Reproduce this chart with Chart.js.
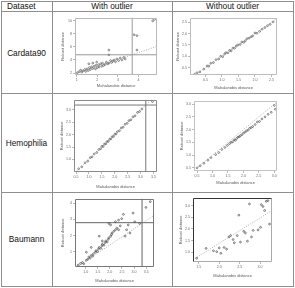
<!DOCTYPE html>
<html><head><meta charset="utf-8">
<script src="https://cdn.jsdelivr.net/npm/chart.js@4/dist/chart.umd.min.js"></script>
<style>
html,body{margin:0;padding:0;background:#fff;width:295px;height:288px;overflow:hidden;font-family:"Liberation Sans",Arial,sans-serif;}
.ln{position:absolute;background:#8f8f8f;}
.txt{position:absolute;font-size:8.3px;color:#111;line-height:10px;height:10px;white-space:nowrap;}
canvas{position:absolute;}
</style></head><body>
<div class="ln" style="left:1px;top:1px;width:1px;height:286px"></div>
<div class="ln" style="left:52px;top:1px;width:1px;height:286px"></div>
<div class="ln" style="left:172px;top:1px;width:1px;height:286px"></div>
<div class="ln" style="left:293px;top:1px;width:1px;height:286px"></div>
<div class="ln" style="left:1px;top:1px;width:293px;height:1px"></div>
<div class="ln" style="left:1px;top:11px;width:293px;height:1px"></div>
<div class="ln" style="left:1px;top:93px;width:293px;height:1px"></div>
<div class="ln" style="left:1px;top:192px;width:293px;height:1px"></div>
<div class="ln" style="left:1px;top:286px;width:293px;height:1px"></div>
<div class="txt" style="left:7px;top:1px">Dataset</div>
<div class="txt" style="left:52px;top:1px;width:120px;text-align:center">With outlier</div>
<div class="txt" style="left:172px;top:1px;width:121px;text-align:center">Without outlier</div>
<div class="txt" style="left:1px;top:48px;width:51px;text-align:center">Cardata90</div>
<div class="txt" style="left:1px;top:138px;width:51px;text-align:center">Hemophilia</div>
<div class="txt" style="left:1px;top:234px;width:51px;text-align:center">Baumann</div>
<canvas id="c1"></canvas><canvas id="c2"></canvas><canvas id="c3"></canvas>
<canvas id="c4"></canvas><canvas id="c5"></canvas><canvas id="c6"></canvas>
<script>
const AXIS_X = 'Mahalanobis distance';
const AXIS_Y = 'Robust distance';

// Cardata90, with outlier
const cardOutX = [1.03,1.12,1.19,1.25,1.31,1.39,1.44,1.50,1.56,1.62,1.66,1.72,1.78,1.84,1.91,1.94,2.00,2.06,2.09,2.16,2.22,2.25,2.31,2.38,2.44,2.50,2.56,2.64,2.69,2.75,2.81,2.88,2.95,3.03,3.11,3.19,3.28,3.35,1.59,1.78,1.97,2.56,2.56,3.78,3.92,3.92,4.77,4.68];
const cardOutY = [2.05,2.20,2.44,2.15,2.34,2.54,2.25,2.64,2.39,2.83,2.54,2.93,2.69,3.03,2.64,3.18,2.83,3.27,2.93,3.42,3.03,3.52,3.18,3.32,3.67,3.42,3.52,3.91,3.62,3.81,4.01,3.72,4.16,3.91,4.30,4.01,4.40,4.16,3.42,3.52,3.67,5.53,4.79,7.88,7.73,5.53,10.23,10.0];
const cardOutFitX = [0.92, 4.91];
const cardOutFitY = [1.87, 6.12];
const cardOutCut = [3.69, 4.8];
const cardOutXTicks = [1,2,3,4];
const cardOutYTicks = [2,4,6,8,10];

// Cardata90, without outlier
const cardX = [0.17,0.24,0.33,0.45,0.55,0.6,0.66,0.74,0.82,0.9,0.96,1.02,1.08,1.12,1.18,1.23,1.28,1.33,1.38,1.43,1.48,1.55,1.6,1.66,1.71,1.76,1.82,1.88,1.93,2.0,2.06,2.14,2.22,2.3,2.38,2.46,2.55];
const cardY = [0.2,0.27,0.31,0.43,0.57,0.56,0.69,0.72,0.85,0.88,1.0,0.98,1.1,1.16,1.15,1.26,1.24,1.36,1.35,1.45,1.5,1.52,1.63,1.62,1.69,1.78,1.8,1.86,1.9,2.03,2.02,2.1,2.2,2.27,2.35,2.41,2.52];
const cardFitX = [0.03, 2.68];
const cardFitY = [0.03, 2.68];
const cardXTicks = [0.5,1.0,1.5,2.0,2.5];
const cardYTicks = [0.5,1.0,1.5,2.0,2.5];

// Hemophilia, with outlier
const hemoOutX = [0.6,0.72,0.85,0.95,1.05,1.12,1.2,1.3,1.38,1.45,1.5,1.55,1.6,1.65,1.7,1.75,1.8,1.85,1.9,1.95,2.0,2.05,2.1,2.18,2.25,2.32,2.4,2.48,2.55,2.62,2.7,2.78,2.88,2.96,3.05,3.46];
const hemoOutY = [0.62,0.7,0.86,0.93,1.07,1.1,1.22,1.28,1.4,1.43,1.53,1.52,1.62,1.63,1.72,1.73,1.82,1.83,1.92,1.93,2.02,2.03,2.12,2.16,2.27,2.3,2.42,2.46,2.57,2.6,2.72,2.76,2.9,2.94,3.04,3.34];
const hemoOutFitX = [0.42, 3.65];
const hemoOutFitY = [0.42, 3.65];
const hemoOutCut = [3.2, 3.2];
const hemoOutXTicks = [0.5,1.0,1.5,2.0,2.5,3.0,3.5];
const hemoOutYTicks = [1.0,1.5,2.0,2.5,3.0];

// Hemophilia, without outlier
const hemoX = [0.5,0.6,0.72,0.85,0.95,1.1,1.2,1.3,1.4,1.48,1.55,1.6,1.65,1.7,1.74,1.78,1.82,1.86,1.9,1.95,2.0,2.05,2.1,2.15,2.2,2.25,2.3,2.38,2.45,2.52,2.6,2.7,2.8,2.9,3.0,3.03];
const hemoY = [0.5,0.58,0.68,0.8,0.9,1.02,1.1,1.22,1.3,1.38,1.45,1.5,1.52,1.6,1.58,1.65,1.7,1.72,1.76,1.8,1.86,1.9,1.95,1.98,2.05,2.08,2.12,2.2,2.3,2.32,2.42,2.5,2.6,2.68,2.95,2.8];
const hemoFitX = [0.4, 3.1];
const hemoFitY = [0.4, 3.1];
const hemoXTicks = [0.5,1.0,1.5,2.0,2.5,3.0];
const hemoYTicks = [0.5,1.0,1.5,2.0,2.5,3.0];

// Baumann, with outlier
const baumOutX = [0.69,0.79,0.87,0.92,1.03,1.09,1.13,1.19,1.23,1.29,1.32,1.40,1.43,1.49,1.53,1.56,1.63,1.67,1.69,1.76,1.80,1.83,1.89,1.93,1.96,2.03,2.07,2.09,2.16,2.23,2.29,2.36,2.43,1.96,2.03,2.23,2.36,2.49,2.63,2.69,2.83,1.23,1.03,1.56,1.69,2.56,2.96,3.49,3.67,3.23,2.76,3.03];
const baumOutY = [0.16,0.26,0.32,0.24,0.46,0.52,0.66,0.60,0.76,0.72,0.86,0.96,1.06,1.00,1.16,1.26,1.20,1.36,1.46,1.40,1.56,1.66,1.60,1.76,1.86,1.96,2.06,2.16,2.26,2.36,2.46,2.36,2.60,2.75,2.66,2.86,2.96,3.05,1.96,2.36,2.16,1.26,0.96,1.96,1.66,3.32,3.40,3.75,4.11,2.75,2.66,2.86];
const baumOutFitX = [0.56, 3.84];
const baumOutFitY = [-0.04, 3.27];
const baumOutCut = [3.33, 2.8];
const baumOutXTicks = [1.0,1.5,2.0,2.5,3.0,3.5];
const baumOutYTicks = [1,2,3,4];

// Baumann, without outlier
const baumX = [1.45,1.68,1.86,1.94,2.0,2.04,2.12,2.18,2.24,2.28,2.34,2.37,2.44,2.48,2.52,2.60,2.64,2.69,2.74,2.79,2.83,2.95,3.01,3.03,3.07,3.15,3.19,3.23,3.11];
const baumY = [0.75,1.17,1.07,1.03,1.19,0.96,1.21,1.14,1.66,1.72,1.55,1.41,1.72,2.59,1.44,1.90,1.83,1.48,3.07,1.66,1.94,1.96,2.07,3.04,2.96,3.18,3.21,2.21,2.79];
const baumFitX = [1.36, 3.30];
const baumFitY = [0.69, 2.80];
const baumXTicks = [1.5,2.0,2.5,3.0];
const baumYTicks = [1.0,1.5,2.0,2.5,3.0];

const F = '"Liberation Sans", Arial, sans-serif';
Chart.defaults.font.family = F;

const framePlugin = {
  id: 'frame',
  afterDatasetsDraw(chart, args, o) {
    const a = chart.chartArea, c = chart.ctx;
    c.save();
    c.lineWidth = o.w || 1;
    const l = Math.round(a.left) + 0.5, t = Math.round(a.top) + 0.5;
    const r = Math.round(a.right) - 0.5, b = Math.round(a.bottom) - 0.5;
    c.strokeStyle = o.color;
    c.beginPath(); c.moveTo(r, t); c.lineTo(r, b); c.lineTo(l, b); c.stroke();
    c.strokeStyle = o.tl || o.color;
    c.beginPath(); c.moveTo(l, b); c.lineTo(l, t); c.lineTo(r, t); c.stroke();
    c.restore();
  }
};

function pts(xs, ys) { return xs.map((v, i) => ({x: v, y: ys[i]})); }

function makePlot(id, fr, o) {
  const yW = 15, xH = o.xH || 15, pad = 2;
  const cv = document.getElementById(id);
  const w = fr.R - fr.L + yW + pad, h = fr.B - fr.T + pad + xH;
  cv.width = w; cv.height = h;
  cv.style.left = (fr.L - yW) + 'px'; cv.style.top = (fr.T - pad) + 'px';
  cv.style.width = w + 'px'; cv.style.height = h + 'px';
  const ds = [];
  ds.push({data: pts(o.fitX, o.fitY), showLine: true, borderColor: '#9a9a9a', borderWidth: 0.8,
           borderDash: [1, 1.5], pointRadius: 0, fill: false});
  if (o.cut) {
    ds.push({data: pts([o.cut[0], o.cut[0]], [o.ymin, o.ymax]), showLine: true, borderColor: o.cutColor,
             borderWidth: 0.9, pointRadius: 0});
    ds.push({data: pts([o.xmin, o.xmax], [o.cut[1], o.cut[1]]), showLine: true, borderColor: o.cutColor,
             borderWidth: 0.9, pointRadius: 0});
  }
  ds.push({data: pts(o.x, o.y), pointRadius: 0.9, borderWidth: 0.6, borderColor: o.ptColor || '#444',
           backgroundColor: 'rgba(0,0,0,0)', pointStyle: 'circle', showLine: false});
  const tickFont = {size: 3.6, family: F};
  new Chart(cv, {
    type: 'scatter',
    data: {datasets: ds},
    options: {
      responsive: false, animation: false, devicePixelRatio: 1,
      layout: {padding: {top: pad, right: pad, left: 0, bottom: 0}},
      plugins: {legend: {display: false}, tooltip: {enabled: false},
                frame: {color: o.frame, tl: o.frameTL, w: 1}},
      scales: {
        x: {type: 'linear', min: o.xmin, max: o.xmax,
            afterBuildTicks: s => { s.ticks = o.xt.map(v => ({value: v})); },
            afterFit: s => { s.height = xH; },
            ticks: {font: tickFont, color: '#6a6a6a', padding: 1, maxRotation: 0, autoSkip: false,
                    callback: v => v.toFixed(o.xd)},
            grid: {drawOnChartArea: false, drawTicks: true, tickLength: 2, color: '#8a8a8a', lineWidth: 0.6},
            border: {display: false},
            title: {display: true, text: AXIS_X, font: {size: 4, family: F}, color: '#555', padding: 0}},
        y: {type: 'linear', min: o.ymin, max: o.ymax,
            afterBuildTicks: s => { s.ticks = o.yt.map(v => ({value: v})); },
            afterFit: s => { s.width = yW; },
            ticks: {font: tickFont, color: '#6a6a6a', padding: 1, autoSkip: false,
                    callback: v => v.toFixed(o.yd)},
            grid: {drawOnChartArea: false, drawTicks: true, tickLength: 2, color: '#8a8a8a', lineWidth: 0.6},
            border: {display: false},
            title: {display: true, text: AXIS_Y, font: {size: 4, family: F}, color: '#555', padding: 0}}
      }
    },
    plugins: [framePlugin]
  });
}

makePlot('c1', {L: 75, T: 15, R: 160, B: 75}, {
  x: cardOutX, y: cardOutY, fitX: cardOutFitX, fitY: cardOutFitY, cut: cardOutCut, cutColor: '#8c8c8c',
  xmin: 0.92, xmax: 4.91, ymin: 1.7, ymax: 10.5, xt: cardOutXTicks, yt: cardOutYTicks, xd: 0, yd: 0,
  frame: '#b8b8b8', xH: 13});
makePlot('c2', {L: 190, T: 15, R: 280, B: 75}, {
  x: cardX, y: cardY, fitX: cardFitX, fitY: cardFitY,
  xmin: 0.03, xmax: 2.68, ymin: 0.17, ymax: 2.71, xt: cardXTicks, yt: cardYTicks, xd: 1, yd: 1,
  frame: '#bdbdbd', xH: 15});
makePlot('c3', {L: 74, T: 97, R: 160, B: 172}, {
  x: hemoOutX, y: hemoOutY, fitX: hemoOutFitX, fitY: hemoOutFitY, cut: hemoOutCut, cutColor: '#6a6a6a',
  xmin: 0.42, xmax: 3.65, ymin: 0.49, ymax: 3.42, xt: hemoOutXTicks, yt: hemoOutYTicks, xd: 1, yd: 1,
  frame: '#8a8a8a', xH: 17});
makePlot('c4', {L: 194, T: 98, R: 280, B: 171}, {
  x: hemoX, y: hemoY, fitX: hemoFitX, fitY: hemoFitY,
  xmin: 0.4, xmax: 3.1, ymin: 0.375, ymax: 3.14, xt: hemoXTicks, yt: hemoYTicks, xd: 1, yd: 1,
  frame: '#c2c2c2', xH: 14});
makePlot('c5', {L: 75, T: 196, R: 157, B: 267}, {
  x: baumOutX, y: baumOutY, fitX: baumOutFitX, fitY: baumOutFitY, cut: baumOutCut, cutColor: '#555',
  xmin: 0.56, xmax: 3.84, ymin: 0.04, ymax: 4.3, xt: baumOutXTicks, yt: baumOutYTicks, xd: 1, yd: 0,
  frame: '#777', xH: 16, ptColor: '#333'});
makePlot('c6', {L: 193, T: 195, R: 275, B: 262}, {
  x: baumX, y: baumY, fitX: baumFitX, fitY: baumFitY,
  xmin: 1.36, xmax: 3.30, ymin: 0.59, ymax: 3.34, xt: baumXTicks, yt: baumYTicks, xd: 1, yd: 1,
  frame: '#aaaaaa', frameTL: '#333', xH: 16, ptColor: '#333'});
</script>
</body></html>
